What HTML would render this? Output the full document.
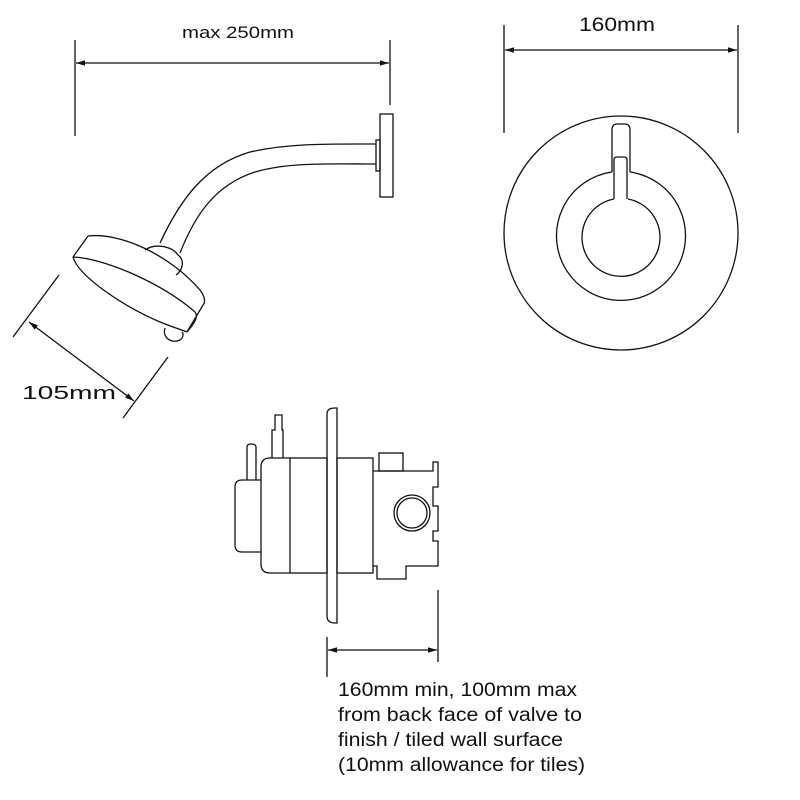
<!DOCTYPE html>
<html><head><meta charset="utf-8"><style>
html,body{margin:0;padding:0;background:#fff;width:800px;height:800px;overflow:hidden}
text{font-family:"Liberation Sans",sans-serif;fill:#111}
</style></head><body>
<svg width="800" height="800" viewBox="0 0 800 800" xmlns="http://www.w3.org/2000/svg">
<defs><marker id="a" viewBox="0 0 10 10" refX="10" refY="5" markerWidth="7" markerHeight="7" orient="auto-start-reverse"><path d="M0,2 L10,5 L0,8 z" fill="#111"/></marker></defs>
<g fill="none" stroke="#111" stroke-width="1.3">
<line x1="75" y1="40" x2="75" y2="136"/>
<line x1="390" y1="40" x2="390" y2="105"/>
<line x1="76" y1="63" x2="389" y2="63" marker-start="url(#a)" marker-end="url(#a)"/>
<rect x="380" y="114" width="13" height="83"/>
<rect x="376" y="140" width="4" height="31"/>
<path d="M376,144 C330,144 290,143 250,152 C205,165 180,200 160,243"/>
<path d="M376,164 C330,164 290,162 255,172 C215,185 195,215 180,253"/>
<path d="M145,250 C155,243 172,246 178,255 C185,260 183,270 176,275"/>
<path d="M88,236 C120,232 170,255 200,290 C206,298 205,303 203,305"/>
<path d="M88,236 L73,257"/>
<path d="M203,305 L187,332"/>
<path d="M73,257 C78,275 120,305 160,322 C175,328 185,331 187,332"/>
<path d="M73,257 C105,258 165,285 195,312 C200,318 190,328 187,332"/>
<path d="M165,328 C162,338 172,344 180,340 C183,338 184,334 182,332"/>
<line x1="13" y1="337" x2="59" y2="275"/>
<line x1="123" y1="418" x2="168" y2="357"/>
<line x1="29" y1="322" x2="134" y2="401" marker-start="url(#a)" marker-end="url(#a)"/>
<line x1="504" y1="25" x2="504" y2="133"/>
<line x1="738" y1="25" x2="738" y2="133"/>
<line x1="505" y1="50" x2="737" y2="50" marker-start="url(#a)" marker-end="url(#a)"/>
<circle cx="621" cy="233" r="117"/>
<path d="M612,172 A64.5,64.5 0 1 0 630,172"/>
<path d="M614,199 A39,39 0 1 0 628,199"/>
<path d="M612,172 L612,130 Q612,124 617,124 L625,124 Q630,124 630,130 L630,172"/>
<path d="M614,199 L614,160 Q614,157 617,157 L624,157 Q627,157 627,160 L627,199"/>
<path d="M327,414 Q327,408 335,408 L337,408 L337,623 L335,623 Q327,623 327,616 Z"/>
<rect x="290" y="458" width="37" height="115"/>
<rect x="337" y="458" width="36" height="115"/>
<path d="M290,458 L270,458 Q261,458 261,467 L261,564 Q261,573 270,573 L290,573"/>
<path d="M261,480 L242,480 Q235,480 235,487 L235,545 Q235,552 242,552 L261,552"/>
<path d="M247,480 L247,447 Q247,444 251,444 Q256,444 256,447 L256,480"/>
<path d="M272,458 L272,430 L275,430 L275,415 L282,415 L282,430 L283,430 L283,458"/>
<rect x="379" y="453" width="24" height="18"/>
<path d="M373,471 L433,471 L433,462 L438,462 L438,487 L433,487 L433,506 L438,506 L438,531 L433,531 L433,541 L438,541 L438,566 L406,566 L406,579 L377,579 L377,566 L373,566"/>
<circle cx="412" cy="513" r="18"/>
<circle cx="412" cy="513" r="15"/>
<line x1="327" y1="637" x2="327" y2="677"/>
<line x1="438" y1="590" x2="438" y2="662"/>
<line x1="328" y1="650" x2="437" y2="650" marker-start="url(#a)" marker-end="url(#a)"/>
</g>
<text x="182" y="38" font-size="17" textLength="112" lengthAdjust="spacingAndGlyphs">max 250mm</text>
<text x="579" y="31" font-size="19" textLength="76" lengthAdjust="spacingAndGlyphs">160mm</text>
<text x="22" y="399" font-size="18" textLength="94" lengthAdjust="spacingAndGlyphs">105mm</text>
<g font-size="19">
<text x="338" y="696" textLength="239" lengthAdjust="spacingAndGlyphs">160mm min, 100mm max</text>
<text x="338" y="721" textLength="244" lengthAdjust="spacingAndGlyphs">from back face of valve to</text>
<text x="338" y="746" textLength="225" lengthAdjust="spacingAndGlyphs">finish / tiled wall surface</text>
<text x="338" y="771" textLength="247" lengthAdjust="spacingAndGlyphs">(10mm allowance for tiles)</text>
</g>
</svg>
</body></html>
